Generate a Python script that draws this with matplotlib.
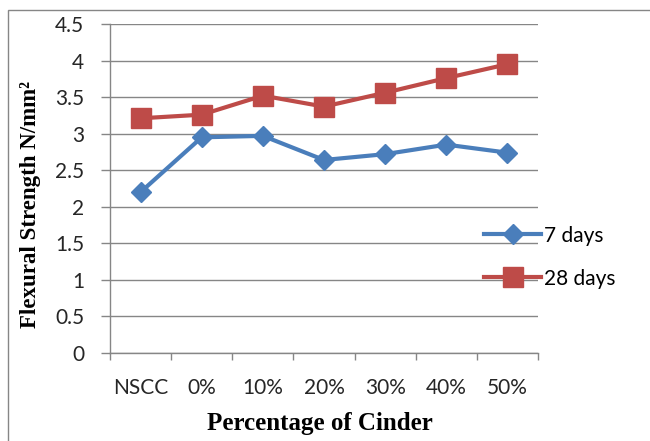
import matplotlib.pyplot as plt
from matplotlib.patches import Rectangle

categories = ['NSCC', '0%', '10%', '20%', '30%', '40%', '50%']
days_7 = [2.20, 2.95, 2.97, 2.64, 2.72, 2.85, 2.74]
days_28 = [3.21, 3.26, 3.52, 3.37, 3.56, 3.76, 3.95]
y_ticks = [0, 0.5, 1, 1.5, 2, 2.5, 3, 3.5, 4, 4.5]
y_tick_labels = ['0', '0.5', '1', '1.5', '2', '2.5', '3', '3.5', '4', '4.5']

GRID = '#868686'
BLUE = '#4A7EBB'
RED = '#BE4B48'
TICK_FONT = ['Lato', 'DejaVu Sans']
LABEL_FONT = ['Liberation Serif', 'DejaVu Serif']


def main():
    fig = plt.figure(figsize=(6.5, 4.41), dpi=100)
    ax = fig.add_axes([0.1692, 0.1995, 0.6585, 0.7461])

    x = range(len(categories))
    ax.plot(x, days_7, color=BLUE, lw=3, marker='D', ms=10,
            label='7 days', zorder=3)
    ax.plot(x, days_28, color=RED, lw=3, marker='s', ms=14,
            label='28 days', zorder=3)

    ax.set_xlim(-0.5, len(categories) - 0.5)
    ax.set_ylim(0, 4.5)
    ax.set_yticks(y_ticks)
    ax.set_yticklabels(y_tick_labels)
    ax.set_xticks(list(x))
    ax.set_xticklabels(categories)
    ax.set_xticks([i - 0.5 for i in range(len(categories) + 1)], minor=True)

    ax.tick_params(axis='x', which='major', length=0, pad=18)
    ax.tick_params(axis='x', which='minor', length=5, color=GRID, width=1)
    ax.tick_params(axis='y', length=6.5, color=GRID, width=1, pad=12)
    for lab in ax.get_xticklabels() + ax.get_yticklabels():
        lab.set_family(TICK_FONT)
        lab.set_fontsize(15)
        lab.set_color('#262626')

    ax.grid(axis='y', color=GRID, lw=1)
    ax.set_axisbelow(True)
    for side in ['top', 'right']:
        ax.spines[side].set_visible(False)
    for side in ['left', 'bottom']:
        ax.spines[side].set_color(GRID)
        ax.spines[side].set_linewidth(1)

    ax.set_ylabel('Flexural Strength N/mm²', family=LABEL_FONT,
                  fontweight='bold', fontsize=16.5)
    ax.yaxis.set_label_coords(-0.16, 0.45)
    ax.set_xlabel('Percentage of Cinder', family=LABEL_FONT,
                  fontweight='bold', fontsize=18)
    ax.xaxis.set_label_coords(0.49, -0.18)

    fig.legend(loc='center left', bbox_to_anchor=(0.729, 0.417),
               frameon=False, borderpad=0, handlelength=2.74,
               handletextpad=0.15, labelspacing=1.1,
               prop={'family': TICK_FONT, 'size': 15})

    # outer chart frame
    fig.patches.append(Rectangle((8 / 650, -0.1), 1.2, 1 - 10 / 441 + 0.1,
                                 transform=fig.transFigure, fill=False,
                                 edgecolor=GRID, lw=1))

    fig.savefig('out.png', dpi=100)


if __name__ == '__main__':
    main()
